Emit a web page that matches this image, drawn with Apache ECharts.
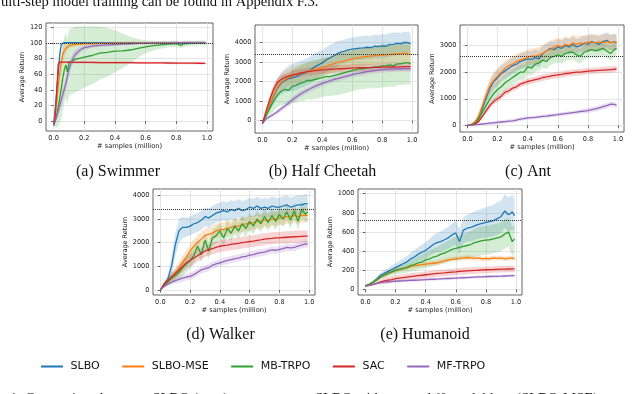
<!DOCTYPE html>
<html><head><meta charset="utf-8">
<script src="https://cdn.jsdelivr.net/npm/echarts@6/dist/echarts.min.js"></script>
<style>html,body{margin:0;padding:0;background:#fff}#c{width:640px;height:394px}</style>
</head><body><div id="c"></div><script>
// ---------- data ----------
const methods = ['SLBO','SLBO-MSE','MB-TRPO','SAC','MF-TRPO'];
const colors = ['#1f77b4','#ff7f0e','#2ca02c','#d62728','#9467bd'];
const bandColors = ['rgba(31,119,180,0.2)','rgba(255,127,14,0.2)','rgba(44,160,44,0.2)','rgba(214,39,40,0.2)','rgba(148,103,189,0.2)'];
const captions = ['(a) Swimmer','(b) Half Cheetah','(c) Ant','(d) Walker','(e) Humanoid'];
const xTicks = [0,0.2,0.4,0.6,0.8,1.0];
const yTicksSwim = [0,20,40,60,80,100,120];
const yTicksCheetah = [0,1000,2000,3000,4000];
const yTicksAnt = [0,1000,2000,3000];
const yTicksWalker = [0,1000,2000,3000,4000];
const yTicksHuman = [0,200,400,600,800,1000];
const refLines = [100,3400,2600,3400,720];

const swimX = [0,0.01,0.02,0.03,0.04,0.05,0.06,0.07,0.08,0.09,0.1,0.12,0.14,0.16,0.18,0.2,0.25,0.3,0.35,0.4,0.45,0.5,0.55,0.6,0.65,0.7,0.75,0.8,0.83,0.85,0.9,0.95,0.99];
const swimSLBO = [-5,15,38,62,85,98,100,100.5,100.5,100.5,100.5,100.5,100.5,100.5,100.5,100.5,100.5,100.5,100.5,100.5,100.5,100.5,100.5,100.5,100.5,100.5,100.5,100.5,100.5,100.5,100.5,100.5,100.5];
const swimSLBOStd = [0,4,7,8,7,4,2,1,1,1,1,1,1,1,1,1,1,1,1,1,1,1,1,1,1,1,1,1,1,1,1,1,1];
const swimMSE = [-5,8,25,45,62,76,85,90,93,95,96.5,97.5,98,98.5,98.7,99,99.3,99.5,99.6,99.7,99.8,99.9,100,100.1,100.2,100.2,100.3,100.3,100.3,100.3,100.4,100.4,100.4];
const swimMSEStd = [0,5,10,13,15,14,12,9,7,5,4,3,2.5,2,2,2,1.5,1.5,1.5,1.5,1.5,1.5,1.5,1.5,1.5,1.5,1.5,1.5,1.5,1.5,1.5,1.5,1.5];
const swimMB = [-5,0,8,18,30,42,55,66,72,63,75,77,79,80,81,82,84,87,88,89.5,90,91,93,95,96.5,97.5,98.5,99,97,99,99.5,100,100];
const swimMBStd = [0,8,16,24,32,38,42,42,42,42,42,42,42,41,40,39,37,34,31,27,22,17,12,8,6,5,4,4,4,4,3,3,3];
const swimSAC = [-5,5,35,72,75.5,75.5,75.5,75.5,75.5,75.5,75.4,75.4,75.3,75.3,75.2,75.2,75.1,75,75,74.9,74.8,74.8,74.7,74.6,74.5,74.5,74.4,74.3,74.3,74.2,74.2,74.1,74];
const swimSACStd = [0,4,8,5,2,1.5,1.5,1.5,1.5,1.5,1.5,1.5,1.5,1.5,1.5,1.5,1.5,1.5,1.5,1.5,1.5,1.5,1.5,1.5,1.5,1.5,1.5,1.5,1.5,1.5,1.5,1.5,1.5];
const swimMF = [-5,0,6,13,20,27,34,41,48,57,66,78,85,89,92,94,96,97,97.5,98,98.5,99,99.5,99.8,100,100,100.2,100.3,100.3,100.3,100.4,100.4,100.4];
const swimMFStd = [0,2,4,6,8,9,9,9,9,9,8,7,6,5,4,3,2.5,2,2,2,1.5,1.5,1.5,1.5,1.5,1.5,1.5,1.5,1.5,1.5,1.5,1.5,1.5];

const X = [0,0.025,0.05,0.075,0.1,0.125,0.15,0.175,0.2,0.225,0.25,0.275,0.3,0.325,0.35,0.375,0.4,0.425,0.45,0.475,0.5,0.525,0.55,0.575,0.6,0.625,0.65,0.675,0.7,0.725,0.75,0.775,0.8,0.825,0.85,0.875,0.9,0.925,0.95,0.975,0.99];

const hcSLBO = [-150,300,800,1250,1650,1900,2050,2150,2200,2250,2350,2400,2500,2600,2750,2850,2950,3100,3200,3300,3420,3500,3550,3620,3650,3680,3700,3720,3750,3730,3800,3780,3820,3800,3880,3900,3950,3920,4000,3960,3930];
const hcSLBOStd = [0,150,300,400,500,550,600,650,700,700,700,700,700,700,700,700,650,650,650,650,650,600,600,600,600,600,600,600,600,600,600,600,600,600,600,600,550,550,550,550,550];
const hcMSE = [-150,350,850,1300,1700,1950,2100,2200,2300,2350,2400,2450,2500,2550,2600,2650,2700,2750,2850,2900,2970,3000,3050,3100,3150,3200,3220,3250,3280,3300,3320,3330,3350,3360,3380,3400,3420,3400,3460,3400,3380];
const hcMSEStd = [0,150,300,400,450,450,450,450,450,450,450,450,450,450,450,450,450,450,450,450,450,450,450,450,450,450,450,450,450,450,450,450,450,450,450,450,450,450,450,450,450];
const hcMB = [-150,250,650,1000,1300,1500,1600,1550,1750,1800,1900,1950,2050,2050,2100,2150,2200,2250,2250,2300,2350,2400,2450,2500,2550,2600,2650,2650,2700,2700,2750,2750,2800,2800,2850,2800,2900,2900,2950,2950,2900];
const hcMBStd = [0,200,400,500,600,700,750,800,850,900,900,950,950,1000,1000,1000,1000,1000,1000,1000,1050,1050,1050,1050,1050,1050,1050,1050,1050,1050,1100,1100,1100,1100,1100,1100,1100,1100,1100,1100,1100];
const hcSAC = [-150,500,1100,1600,1950,2100,2200,2270,2330,2380,2420,2460,2500,2520,2550,2570,2590,2600,2620,2630,2640,2650,2660,2670,2680,2690,2700,2700,2710,2710,2720,2720,2730,2730,2740,2740,2750,2750,2760,2760,2760];
const hcSACStd = [0,100,200,250,200,200,200,200,200,200,200,200,200,200,200,200,200,200,200,200,200,200,200,200,200,200,200,200,200,200,200,200,200,200,200,200,200,200,200,200,200];
const hcMF = [-150,80,200,320,450,600,750,900,1050,1200,1330,1450,1550,1650,1750,1820,1900,1970,2030,2100,2150,2200,2250,2300,2350,2400,2430,2470,2500,2530,2560,2580,2600,2620,2630,2640,2650,2650,2660,2660,2650];
const hcMFStd = [0,50,80,100,120,150,150,150,150,150,150,150,150,150,150,150,150,150,150,150,150,150,150,150,150,150,150,150,150,150,150,150,150,150,150,150,150,150,150,150,150];

const antSLBO = [0,20,100,300,650,1050,1400,1650,1800,1950,2050,2150,2250,2300,2400,2450,2500,2480,2550,2500,2700,2800,2900,2850,2950,2900,3000,2950,3050,2950,3000,3100,3050,3150,3100,3050,3150,3200,3100,3150,3100];
const antSLBOStd = [0,30,80,150,200,250,300,300,300,300,300,300,300,300,300,300,300,300,300,300,300,300,300,300,300,300,300,300,300,300,300,300,300,300,300,300,300,300,300,300,300];
const antMSE = [0,30,120,350,750,1150,1500,1700,1850,2000,2150,2250,2300,2400,2450,2500,2550,2600,2600,2650,2700,2800,2850,2950,3000,2950,3050,3000,3100,3050,3100,3050,3150,3100,3100,3150,3100,3150,3100,3150,3120];
const antMSEStd = [0,30,80,150,200,250,300,300,300,300,300,300,300,300,300,300,300,300,300,300,300,300,300,300,300,300,300,300,300,300,300,300,300,300,300,300,300,300,300,300,300];
const antMB = [0,20,80,250,500,750,1000,1200,1350,1450,1600,1700,1800,1900,2000,2000,2200,2150,2300,2350,2450,2400,2550,2600,2650,2600,2700,2750,2750,2650,2600,2750,2800,2850,2800,2850,2900,2800,2700,2850,2900];
const antMBStd = [0,20,60,120,180,220,250,280,280,280,280,280,280,280,280,280,280,280,280,280,280,280,280,280,280,280,280,280,280,280,280,280,280,280,280,280,280,280,280,280,280];
const antSAC = [0,10,50,150,350,550,750,900,1000,1100,1250,1300,1400,1450,1550,1600,1650,1680,1720,1750,1800,1820,1850,1880,1900,1920,1950,1960,1980,2000,2000,2020,2040,2050,2060,2070,2080,2090,2100,2110,2120];
const antSACStd = [0,10,30,60,80,100,120,120,120,120,120,120,120,120,120,120,120,120,120,120,120,120,120,120,120,120,120,120,120,120,120,120,120,120,120,120,120,120,120,120,120];
const antMF = [0,10,20,35,50,65,80,95,110,125,140,155,170,200,230,250,280,290,300,320,340,350,370,385,400,420,440,460,480,500,520,535,550,590,620,660,700,740,800,790,760];
const antMFStd = [0,10,20,30,40,50,70,70,70,70,70,70,70,70,70,70,70,70,70,70,70,70,70,70,70,70,70,70,70,70,70,100,100,100,100,100,100,100,100,100,100];

const wkSLBO = [0,250,450,1000,1900,2500,2650,2650,2700,2800,2850,2950,3100,3050,3150,3250,3300,3350,3300,3400,3350,3450,3350,3400,3500,3450,3550,3450,3500,3450,3550,3500,3500,3550,3600,3500,3550,3600,3600,3650,3650];
const wkSLBOStd = [0,100,200,400,500,500,450,400,400,400,400,400,400,400,400,400,400,400,400,400,400,400,400,400,400,400,400,400,400,400,400,400,400,400,400,400,400,400,400,400,400];
const wkMSE = [0,250,400,550,700,900,1150,1400,1650,1850,2000,2150,2300,2350,2400,2500,2550,2550,2600,2650,2700,2700,2750,2800,2800,2850,2900,2900,2950,2950,3000,3000,3050,3050,3100,3100,3150,3100,3150,3150,3150];
const wkMSEStd = [0,80,150,200,250,300,300,300,300,300,300,300,300,300,300,300,300,300,300,300,300,300,300,300,300,300,300,300,300,300,300,300,300,300,300,300,300,300,300,300,300];
const wkMB = [0,200,350,500,600,750,950,1100,1250,1450,1850,1500,2100,1650,2200,2300,2500,2200,2600,2400,2700,2500,2800,2600,2900,2700,3000,2800,3100,2850,3150,2900,3200,3000,3300,2950,3350,2900,3400,3200,3300];
const wkMBStd = [0,80,150,200,250,300,350,350,350,350,350,350,350,350,350,350,350,350,350,350,350,350,350,350,350,350,350,350,350,350,350,350,350,350,350,350,350,350,350,350,350];
const wkSAC = [0,250,400,550,700,850,1000,1150,1250,1350,1450,1550,1650,1700,1750,1800,1850,1880,1900,1930,1950,1970,2000,2020,2050,2070,2100,2120,2150,2170,2180,2200,2200,2220,2230,2240,2250,2260,2270,2280,2280];
const wkSACStd = [0,80,120,150,180,200,250,250,250,250,250,250,250,250,250,250,250,250,250,250,250,250,250,250,250,250,250,250,250,250,250,250,250,250,250,250,250,250,250,250,250];
const wkMF = [0,150,250,330,400,450,500,550,580,650,750,850,900,950,1050,1100,1150,1200,1250,1280,1330,1350,1400,1420,1480,1500,1550,1580,1600,1650,1700,1680,1720,1750,1800,1780,1800,1850,1900,1950,1930];
const wkMFStd = [0,50,80,100,120,150,150,150,150,150,150,150,150,150,150,150,150,150,150,150,150,150,150,150,150,150,150,150,150,150,150,150,150,150,150,150,150,150,150,150,150];

const huSLBO = [40,55,80,110,150,170,190,210,230,250,270,290,320,340,370,390,410,440,470,490,500,520,540,570,590,500,620,640,650,665,680,690,700,710,720,740,760,820,780,810,770];
const huSLBOStd = [10,12,15,20,25,30,35,40,45,50,55,60,65,70,75,80,85,90,95,100,105,110,115,120,125,130,135,140,145,150,150,155,160,160,165,170,170,175,180,180,180];
const huMSE = [40,55,75,100,130,150,170,185,200,210,220,230,240,250,255,260,265,270,275,280,290,300,310,315,320,325,330,335,330,325,330,320,325,320,330,325,330,320,325,330,320];
const huMSEStd = [10,10,12,15,25,25,25,25,25,25,25,25,25,25,25,25,25,25,25,25,25,25,25,25,25,25,25,25,25,25,25,25,25,25,25,25,25,25,25,25,25];
const huMB = [40,55,75,100,130,150,170,185,200,210,220,230,250,260,280,290,310,320,340,350,370,380,400,420,430,440,450,460,470,490,500,510,515,520,530,540,550,580,600,500,530];
const huMBStd = [10,12,15,18,20,25,30,35,40,45,50,55,60,65,70,75,80,85,90,95,100,105,110,115,120,125,130,135,140,145,150,150,150,150,150,150,150,150,150,150,150];
const huSAC = [40,45,55,65,80,90,100,105,115,120,125,130,135,140,145,150,155,160,165,170,172,175,180,183,186,190,193,196,198,200,202,205,207,209,210,212,213,214,215,216,216];
const huSACStd = [10,10,12,15,20,35,35,35,35,35,35,35,35,35,35,35,35,35,35,35,35,35,35,35,35,35,35,35,35,35,35,35,35,35,35,35,35,35,35,35,35];
const huMF = [40,45,55,65,72,78,82,85,88,90,92,94,96,98,100,102,104,106,108,110,112,114,116,118,120,122,124,126,128,130,132,133,135,137,138,139,140,142,144,146,146];
const huMFStd = [10,10,10,10,15,15,15,15,15,15,15,15,15,15,15,15,15,15,15,15,15,15,15,15,15,15,15,15,15,15,15,15,15,15,15,15,15,15,15,15,15];

// ---------- layout ----------
const panels = [
  {x: swimX, means:[swimSLBO,swimMSE,swimMB,swimSAC,swimMF], stds:[swimSLBOStd,swimMSEStd,swimMBStd,swimSACStd,swimMFStd], yTicks: yTicksSwim,
   grid:{left:46,top:23,width:167,height:108}, yr:[-12.4,125.5], yGap:18, cap:[118,172]},
  {x: X, means:[hcSLBO,hcMSE,hcMB,hcSAC,hcMF], stds:[hcSLBOStd,hcMSEStd,hcMBStd,hcSACStd,hcMFStd], yTicks: yTicksCheetah,
   grid:{left:255,top:25,width:163,height:108}, yr:[-636,4887], yGap:21.5, cap:[322.5,172]},
  {x: X, means:[antSLBO,antMSE,antMB,antSAC,antMF], stds:[antSLBOStd,antMSEStd,antMBStd,antSACStd,antMFStd], yTicks: yTicksAnt,
   grid:{left:460,top:25,width:164,height:107}, yr:[-251,3776], yGap:21.5, cap:[528,172]},
  {x: X, means:[wkSLBO,wkMSE,wkMB,wkSAC,wkMF], stds:[wkSLBOStd,wkMSEStd,wkMBStd,wkSACStd,wkMFStd], yTicks: yTicksWalker,
   grid:{left:153,top:189,width:162,height:106}, yr:[-210,4268], yGap:22, cap:[220.5,335]},
  {x: X, means:[huSLBO,huMSE,huMB,huSAC,huMF], stds:[huSLBOStd,huMSEStd,huMBStd,huSACStd,huMFStd], yTicks: yTicksHuman,
   grid:{left:358,top:189,width:164,height:106}, yr:[-56,1049], yGap:23, cap:[425,335]}
];

const FONT = 'DejaVu Sans';
const grids = [], xAxes = [], yAxes = [], series = [], graphics = [];

panels.forEach((p, gi) => {
  grids.push(Object.assign({show:true, borderColor:'#3a3a3a', borderWidth:0.8, backgroundColor:'#fff', containLabel:false}, p.grid));
  xAxes.push({
    type:'value', gridIndex:gi, min:-0.0495, max:1.0395,
    axisLine:{show:false},
    axisTick:{show:true, length:2.5, lineStyle:{color:'#3a3a3a', width:0.8}, customValues:xTicks},
    axisLabel:{customValues:xTicks, formatter:v=>v.toFixed(1), fontSize:6.6, color:'#222', margin:3.5, fontFamily:FONT},
    splitLine:{show:true, lineStyle:{color:'#dedede', width:0.8}},
    name:'# samples (million)', nameLocation:'middle', nameGap:11,
    nameTextStyle:{fontSize:6.7, color:'#222', fontFamily:FONT}
  });
  yAxes.push({
    type:'value', gridIndex:gi, min:p.yr[0], max:p.yr[1],
    axisLine:{show:false},
    axisTick:{show:true, length:2.5, lineStyle:{color:'#3a3a3a', width:0.8}, customValues:p.yTicks},
    axisLabel:{customValues:p.yTicks, formatter:v=>String(Math.round(v)), fontSize:6.6, color:'#222', margin:3.5, fontFamily:FONT},
    splitLine:{show:true, lineStyle:{color:'#dedede', width:0.8}},
    name:'Average Return', nameLocation:'middle', nameGap:p.yGap,
    nameTextStyle:{fontSize:6.5, color:'#222', fontFamily:FONT}
  });
  // bands
  methods.forEach((m, si) => {
    const xs = p.x, mean = p.means[si], std = p.stds[si], fill = bandColors[si];
    series.push({
      type:'custom', xAxisIndex:gi, yAxisIndex:gi, silent:true, z:1, clip:true,
      data:[[xs[0], mean[0]]],
      renderItem:(params, api) => {
        const up = xs.map((x,i)=>api.coord([x, mean[i]+std[i]]));
        const lo = xs.map((x,i)=>api.coord([x, mean[i]-std[i]])).reverse();
        return {type:'polygon', shape:{points:up.concat(lo)}, style:{fill:fill}, silent:true};
      }
    });
  });
  // mean lines
  methods.forEach((m, si) => {
    const s = {
      type:'line', name:m, xAxisIndex:gi, yAxisIndex:gi, z:3,
      data:p.x.map((x,i)=>[x, p.means[si][i]]),
      showSymbol:false, symbol:'none', smooth:false,
      lineStyle:{color:colors[si], width:1.3}, itemStyle:{color:colors[si]},
      emphasis:{disabled:true}
    };
    if (si === 0) {
      s.markLine = {symbol:'none', silent:true, label:{show:false}, animation:false,
        lineStyle:{type:'dotted', color:'#333', width:1}, data:[{yAxis:refLines[gi]}]};
    }
    series.push(s);
  });
  graphics.push({type:'text', x:p.cap[0], y:p.cap[1], style:{text:captions[gi], font:'16px "Liberation Serif"', fill:'#111', textAlign:'center', textVerticalAlign:'middle'}});
});

graphics.push({type:'text', x:1, y:2.5, style:{text:'ulti-step model training can be found in Appendix F.3.', font:'14.6px "Liberation Serif"', fill:'#111', textAlign:'left', textVerticalAlign:'middle'}});
graphics.push({type:'text', x:10, y:399, style:{text:'1: Comparison between SLBO (ours),', font:'14.6px "Liberation Serif"', fill:'#111', textAlign:'left', textVerticalAlign:'middle'}});
graphics.push({type:'text', x:315, y:399, style:{text:'SLBO with squared ℓ² model loss (SLBO-MSE),', font:'14.6px "Liberation Serif"', fill:'#111', textAlign:'left', textVerticalAlign:'middle'}});

const chart = echarts.init(document.getElementById('c'), null, {renderer:'canvas'});
chart.setOption({
  animation:false,
  backgroundColor:'#fff',
  grid:grids, xAxis:xAxes, yAxis:yAxes, series:series,
  legend:{data:methods, left:36, top:356, icon:'rect', itemWidth:22, itemHeight:2, itemGap:22.5,
    textStyle:{fontSize:11, color:'#111', fontFamily:FONT, padding:[0,0,0,2.6]}, selectedMode:false},
  graphic:graphics
});
</script></body></html>
